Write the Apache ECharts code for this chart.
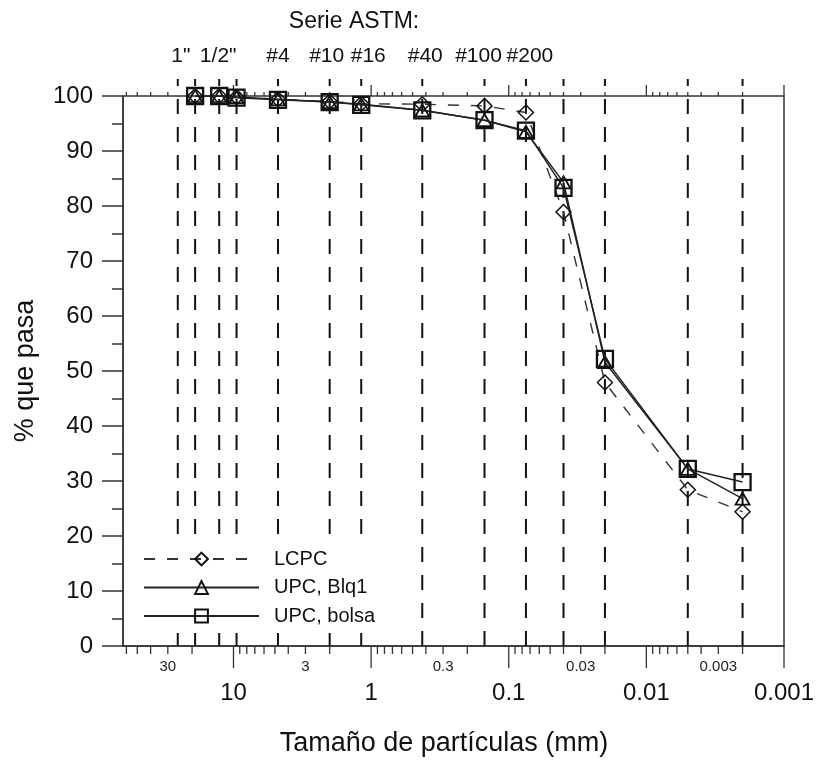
<!DOCTYPE html>
<html><head><meta charset="utf-8">
<script src="https://cdn.jsdelivr.net/npm/echarts@6/dist/echarts.min.js"></script>
<style>html,body{margin:0;padding:0;background:#fff}#c{width:819px;height:762px}</style>
</head><body><div id="c"></div>
<script>
const FONT = '"Liberation Sans", Arial, Helvetica, sans-serif';

// ---- data ----
const seriesNames = ['LCPC', 'UPC, Blq1', 'UPC, bolsa'];
const sizesMm  = [19.0, 12.7, 9.5, 4.75, 2.0, 1.18, 0.425, 0.15, 0.075, 0.04, 0.02, 0.005, 0.002];
const lcpc     = [100, 100, 99.8, 99.4, 99.0, 98.6, 98.5, 98.2, 97.0, 78.9, 47.9, 28.4, 24.4];
const upcBlq1  = [100, 100, 99.8, 99.4, 98.9, 98.5, 97.4, 95.6, 93.5, 84.3, 51.6, 32.2, 26.8];
const upcBolsa = [100, 100, 99.7, 99.3, 98.9, 98.4, 97.4, 95.6, 93.7, 83.3, 52.2, 32.2, 29.8];

// reference (sieve / hydrometer) vertical lines
const refLines = [25.4, 19.0, 12.7, 9.5, 4.75, 2.0, 1.18, 0.425, 0.15, 0.075, 0.04, 0.02, 0.005, 0.002];
const astmSizes  = [25.4, 12.7, 4.75, 2.0, 1.18, 0.425, 0.15, 0.075];
const astmLabels = ['1"', '1/2"', '#4', '#10', '#16', '#40', '#100', '#200'];
const astmLabelShift = [3, -1, 0, -3, 7, 3, -6, 4];

// axis ticks
const majorTicks = [10, 1, 0.1, 0.01, 0.001];
const minorTicks = [60, 50, 40, 30, 20,
  9, 8, 7, 6, 5, 4, 3, 2,
  0.9, 0.8, 0.7, 0.6, 0.5, 0.4, 0.3, 0.2,
  0.09, 0.08, 0.07, 0.06, 0.05, 0.04, 0.03, 0.02,
  0.009, 0.008, 0.007, 0.006, 0.005, 0.004, 0.003, 0.002];
const minorTickLabels = [30, 3, 0.3, 0.03, 0.003];
const xMin = 0.001, xMax = 63.5;

const AX = '#333';

function tickRender(lenDown, lenUp) {
  return function (params, api) {
    const v = api.value(0);
    const b = api.coord([v, 0]);
    const t = api.coord([v, 100]);
    return {
      type: 'group', silent: true,
      children: [
        { type: 'line', shape: { x1: b[0], y1: b[1], x2: b[0], y2: b[1] + lenDown }, style: { stroke: AX, lineWidth: 1.3 } },
        { type: 'line', shape: { x1: t[0], y1: t[1], x2: t[0], y2: t[1] - lenUp }, style: { stroke: AX, lineWidth: 1.3 } }
      ]
    };
  };
}

const chart = echarts.init(document.getElementById('c'), null, { renderer: 'canvas' });

const mk = (ys) => sizesMm.map((s, i) => [s, ys[i]]);

chart.setOption({
  animation: false,
  backgroundColor: '#fff',
  textStyle: { fontFamily: FONT },
  grid: { left: 123, right: 35, top: 96, bottom: 114, show: true, borderColor: AX, borderWidth: 1.5, backgroundColor: 'transparent' },
  graphic: [
    { type: 'text', x: 354, y: 22, silent: true,
      style: { text: 'Serie ASTM:', fontSize: 23, fontFamily: FONT, fill: '#111', textAlign: 'center', textVerticalAlign: 'middle' } }
  ],
  legend: {
    data: seriesNames, orient: 'vertical', left: 125, top: 537,
    padding: [12, 35, 7, 18], backgroundColor: '#fff', z: 6,
    itemWidth: 115, itemHeight: 16, itemGap: 8.5,
    textStyle: { fontSize: 20, fontFamily: FONT, color: '#111', padding: [0, 0, 0, 10] }
  },
  xAxis: {
    type: 'log', logBase: 10, min: xMin, max: xMax, inverse: true,
    axisLine: { show: true, lineStyle: { color: AX, width: 1.5 } },
    axisTick: { show: false }, minorTick: { show: false },
    splitLine: { show: false }, minorSplitLine: { show: false },
    axisLabel: {
      fontSize: 24, margin: 35, color: '#111', fontFamily: FONT,
      formatter: function (v) {
        const l = Math.log10(v);
        if (Math.abs(l - Math.round(l)) > 1e-6) return '';
        const p = Math.pow(10, Math.round(l));
        return majorTicks.some(m => Math.abs(m - p) / m < 1e-9) ? String(+p.toPrecision(1)) : '';
      }
    },
    name: 'Tamaño de partículas (mm)', nameLocation: 'middle', nameGap: 84,
    nameTextStyle: { fontSize: 27, color: '#111', fontFamily: FONT, padding: [0, 19, 0, 0] }
  },
  yAxis: {
    type: 'value', min: 0, max: 100, interval: 10,
    axisLine: { show: true, lineStyle: { color: AX, width: 1.5 } },
    axisTick: { show: true, length: 21, lineStyle: { color: AX, width: 1.5 } },
    minorTick: { show: true, splitNumber: 2, length: 11, lineStyle: { color: AX, width: 1.5 } },
    splitLine: { show: false },
    axisLabel: { fontSize: 24, margin: 30, color: '#111', fontFamily: FONT },
    name: '% que pasa', nameLocation: 'middle', nameGap: 84,
    nameTextStyle: { fontSize: 27, color: '#111', fontFamily: FONT }
  },
  series: [
    { // vertical reference dashed lines
      type: 'custom', name: 'refLines', silent: true, z: 1,
      data: refLines.map(v => [v, 0]),
      encode: { x: 0, y: 1 },
      renderItem: function (params, api) {
        const v = api.value(0);
        const b = api.coord([v, 0]);
        const t = api.coord([v, 100]);
        return { type: 'line', shape: { x1: b[0], y1: b[1], x2: t[0], y2: t[1] - 17 },
          style: { stroke: '#111', lineWidth: 2, lineDash: [15, 13] } };
      }
    },
    { // ASTM labels
      type: 'custom', name: 'astmLabels', silent: true, z: 1,
      data: astmSizes.map((v, i) => [v, 100, i]),
      encode: { x: 0, y: 1 },
      renderItem: function (params, api) {
        const v = api.value(0);
        const i = api.value(2);
        const t = api.coord([v, 100]);
        return { type: 'text', x: t[0] + astmLabelShift[i], y: 56,
          style: { text: astmLabels[i], fontSize: 21, fontFamily: FONT, fill: '#111', textAlign: 'center', textVerticalAlign: 'middle' } };
      }
    },
    { type: 'custom', name: 'majorTicks', silent: true, z: 2, data: majorTicks.map(v => [v, 0]), encode: { x: 0, y: 1 }, renderItem: tickRender(22, 11) },
    { type: 'custom', name: 'minorTicks', silent: true, z: 2, data: minorTicks.map(v => [v, 0]), encode: { x: 0, y: 1 }, renderItem: tickRender(8, 4) },
    { // small minor tick labels
      type: 'custom', name: 'minorLabels', silent: true, z: 2,
      data: minorTickLabels.map(v => [v, 0]), encode: { x: 0, y: 1 },
      renderItem: function (params, api) {
        const v = api.value(0);
        const b = api.coord([v, 0]);
        return { type: 'text', x: b[0], y: b[1] + 21,
          style: { text: String(v), fontSize: 15, fontFamily: FONT, fill: '#222', textAlign: 'center', textVerticalAlign: 'middle' } };
      }
    },
    {
      type: 'line', name: seriesNames[0], data: mk(lcpc), z: 3,
      symbol: 'diamond', symbolSize: [15, 15],
      lineStyle: { color: '#333', width: 1.4, type: [11, 12] },
      itemStyle: { color: 'transparent', borderColor: '#111', borderWidth: 1.5 }
    },
    {
      type: 'line', name: seriesNames[1], data: mk(upcBlq1), z: 4,
      symbol: 'triangle', symbolSize: [14, 12],
      lineStyle: { color: '#222', width: 1.5 },
      itemStyle: { color: 'transparent', borderColor: '#111', borderWidth: 1.8 }
    },
    {
      type: 'line', name: seriesNames[2], data: mk(upcBolsa), z: 5,
      symbol: 'rect', symbolSize: [16, 16],
      lineStyle: { color: '#222', width: 1.5 },
      itemStyle: { color: 'transparent', borderColor: '#111', borderWidth: 2.3 }
    }
  ]
});
</script>
</body></html>
